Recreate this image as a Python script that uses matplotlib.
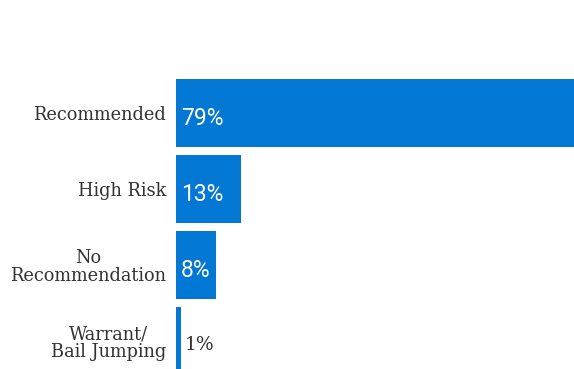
import matplotlib
matplotlib.use("Agg")
import matplotlib.pyplot as plt

categories = ["Recommended", "High Risk", "No\nRecommendation", "Warrant/\nBail Jumping"]
values = [79, 13, 8, 1]
labels = ["79%", "13%", "8%", "1%"]

blue = "#0277d4"
dark = "#333333"

fig = plt.figure(figsize=(5.74, 3.69), dpi=100)
ax = fig.add_axes([176 / 574, 0, 1 - 176 / 574, 1])

pos = list(range(len(categories)))
ax.barh(pos, values, height=68 / 76, color=blue)
ax.set_xlim(0, 79)
ax.set_ylim((369 - 113) / 76, -113 / 76)

for y, v, lab, cat in zip(pos, values, labels, categories):
    if v > 5:
        ax.text(0.95, y + 0.07, lab, color="white", va="center", ha="left",
                fontsize=16.5, family="Roboto")
    else:
        ax.text(v + 0.8, y + 0.05, lab, color=dark, va="center", ha="left",
                fontsize=13.5, family="DejaVu Serif")
    ax.text(-2, y + 0.03, cat, color=dark, va="center", ha="right",
            fontsize=12.8, family="DejaVu Serif", linespacing=1.0,
            multialignment="center", clip_on=False)

ax.axis("off")
fig.savefig("out.png", dpi=100)
